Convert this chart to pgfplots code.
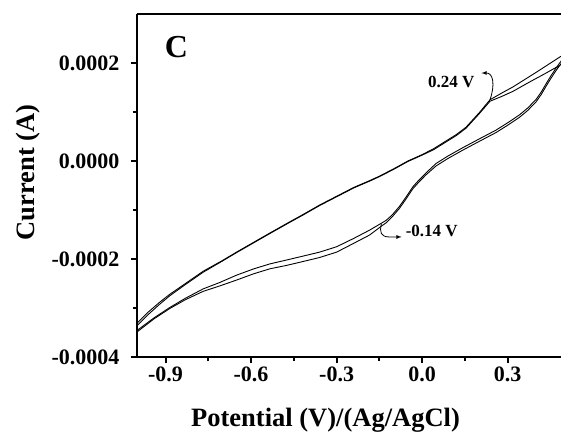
\documentclass[border=0pt]{standalone}
\usepackage{fontspec}
\setmainfont{Liberation Serif}
\usepackage{pgfplots}
\pgfplotsset{compat=1.18}
\begin{document}
\begin{tikzpicture}
\begin{axis}[
  width=424pt, height=343pt, scale only axis,
  xmin=-1.0, xmax=0.487, ymin=-0.0004, ymax=0.0003,
  separate axis lines,
  axis x line*=box, axis y line*=left,
  axis line style={line width=2.6pt, black, -},
  every outer x axis line/.append style={-},
  every outer y axis line/.append style={-},
  xtick={-0.9,-0.6,-0.3,0,0.3},
  ytick={-0.0004,-0.0002,0,0.0002},
  minor x tick num=1, minor y tick num=1,
  xtick pos=left, ytick pos=left,
  tick align=outside,
  major tick length=6pt, minor tick length=4pt,
  every tick/.style={line width=2pt, black},
  scaled y ticks=false, scaled x ticks=false,
  xticklabel style={/pgf/number format/fixed, /pgf/number format/fixed zerofill, /pgf/number format/precision=1},
  yticklabel style={/pgf/number format/fixed, /pgf/number format/fixed zerofill, /pgf/number format/precision=4, xshift=-8pt},
  /pgf/number format/assume math mode=true,
  tick label style={font=\fontsize{22}{24}\selectfont\bfseries},
  xlabel={Potential (V)/(Ag/AgCl)},
  ylabel={Current (A)},
  label style={font=\fontsize{26.5}{30}\selectfont\bfseries},
  xlabel style={at={(axis description cs:0.4446,-0.202)}, anchor=base},
  ylabel style={at={(axis description cs:-0.2429,0.538)}, anchor=base},
  clip=true,
]
% cycle 1
\addplot[black, line width=0.9pt] coordinates {
(-0.998,-3.30e-4) (-0.96,-3.08e-4) (-0.92,-2.88e-4) (-0.885,-2.72e-4) (-0.83,-2.50e-4)
(-0.768,-2.25e-4) (-0.70,-2.03e-4) (-0.651,-1.86e-4) (-0.60,-1.69e-4) (-0.534,-1.47e-4)
(-0.47,-1.26e-4) (-0.417,-1.09e-4) (-0.36,-0.90e-4) (-0.30,-0.72e-4) (-0.24,-0.54e-4)
(-0.184,-0.40e-4) (-0.15,-0.31e-4) (-0.10,-0.16e-4) (-0.05,0.00e-4) (0.0,0.13e-4)
(0.04,0.25e-4) (0.084,0.41e-4) (0.12,0.54e-4) (0.154,0.69e-4) (0.201,0.99e-4)
(0.238,1.25e-4) (0.28,1.39e-4) (0.318,1.51e-4) (0.40,1.81e-4) (0.485,2.13e-4) (0.50,2.18e-4)
(0.50,2.14e-4) (0.485,2.02e-4) (0.47,1.90e-4) (0.452,1.74e-4) (0.435,1.58e-4)
(0.418,1.41e-4) (0.40,1.26e-4) (0.37,1.08e-4) (0.341,0.94e-4) (0.30,0.78e-4)
(0.259,0.63e-4) (0.20,0.45e-4) (0.142,0.27e-4) (0.09,0.10e-4) (0.049,-0.05e-4)
(0.014,-0.24e-4) (-0.01,-0.38e-4) (-0.033,-0.53e-4) (-0.057,-0.74e-4) (-0.08,-0.93e-4)
(-0.105,-1.10e-4) (-0.126,-1.21e-4) (-0.143,-1.27e-4) (-0.184,-1.41e-4) (-0.24,-1.58e-4)
(-0.30,-1.75e-4) (-0.36,-1.86e-4) (-0.417,-1.94e-4) (-0.475,-2.02e-4) (-0.534,-2.10e-4)
(-0.59,-2.20e-4) (-0.651,-2.33e-4) (-0.71,-2.48e-4) (-0.768,-2.61e-4) (-0.83,-2.80e-4)
(-0.885,-2.99e-4) (-0.94,-3.20e-4) (-0.998,-3.45e-4)
};
% cycle 2
\addplot[black, line width=0.9pt] coordinates {
(-0.998,-3.35e-4) (-0.96,-3.13e-4) (-0.92,-2.92e-4) (-0.885,-2.75e-4) (-0.83,-2.52e-4)
(-0.768,-2.27e-4) (-0.70,-2.04e-4) (-0.651,-1.87e-4) (-0.60,-1.70e-4) (-0.534,-1.48e-4)
(-0.47,-1.27e-4) (-0.417,-1.10e-4) (-0.36,-0.91e-4) (-0.30,-0.73e-4) (-0.24,-0.55e-4)
(-0.184,-0.41e-4) (-0.15,-0.32e-4) (-0.10,-0.17e-4) (-0.05,-0.01e-4) (0.0,0.12e-4)
(0.04,0.23e-4) (0.084,0.39e-4) (0.12,0.52e-4) (0.154,0.67e-4) (0.201,0.97e-4)
(0.238,1.22e-4) (0.28,1.32e-4) (0.318,1.42e-4) (0.376,1.61e-4) (0.43,1.78e-4) (0.485,1.96e-4) (0.50,2.01e-4)
(0.50,2.09e-4) (0.485,1.97e-4) (0.47,1.85e-4) (0.452,1.69e-4) (0.435,1.53e-4)
(0.418,1.36e-4) (0.40,1.21e-4) (0.37,1.03e-4) (0.341,0.89e-4) (0.30,0.73e-4)
(0.259,0.58e-4) (0.20,0.40e-4) (0.142,0.22e-4) (0.09,0.05e-4) (0.049,-0.10e-4)
(0.014,-0.28e-4) (-0.01,-0.42e-4) (-0.033,-0.57e-4) (-0.057,-0.78e-4) (-0.08,-0.97e-4)
(-0.105,-1.14e-4) (-0.126,-1.26e-4) (-0.143,-1.33e-4) (-0.184,-1.51e-4) (-0.24,-1.68e-4)
(-0.30,-1.86e-4) (-0.36,-1.97e-4) (-0.417,-2.05e-4) (-0.475,-2.13e-4) (-0.534,-2.20e-4)
(-0.59,-2.30e-4) (-0.651,-2.43e-4) (-0.71,-2.55e-4) (-0.768,-2.66e-4) (-0.83,-2.83e-4)
(-0.885,-3.01e-4) (-0.94,-3.22e-4) (-0.998,-3.48e-4)
};
\node[font=\fontsize{32}{34}\selectfont\bfseries] at (axis cs:-0.862,2.33e-4) {C};
\node[font=\fontsize{17}{19}\selectfont\bfseries] at (axis cs:0.102,1.62e-4) {0.24 V};
\node[font=\fontsize{17}{19}\selectfont\bfseries, anchor=west, inner sep=0pt] at (axis cs:-0.058,-1.43e-4) {-0.14 V};
\draw[-latex, line width=0.8pt] (axis cs:0.238,1.25e-4) .. controls (axis cs:0.256,1.55e-4) and (axis cs:0.25,1.80e-4) .. (axis cs:0.208,1.795e-4);
\draw[-latex, line width=0.8pt] (axis cs:-0.143,-1.29e-4) .. controls (axis cs:-0.15,-1.45e-4) and (axis cs:-0.145,-1.55e-4) .. (axis cs:-0.115,-1.55e-4) -- (axis cs:-0.072,-1.55e-4);
\end{axis}
\pgfresetboundingbox
\path (-137pt,-77pt) rectangle (424pt,357pt);
\end{tikzpicture}
\end{document}
